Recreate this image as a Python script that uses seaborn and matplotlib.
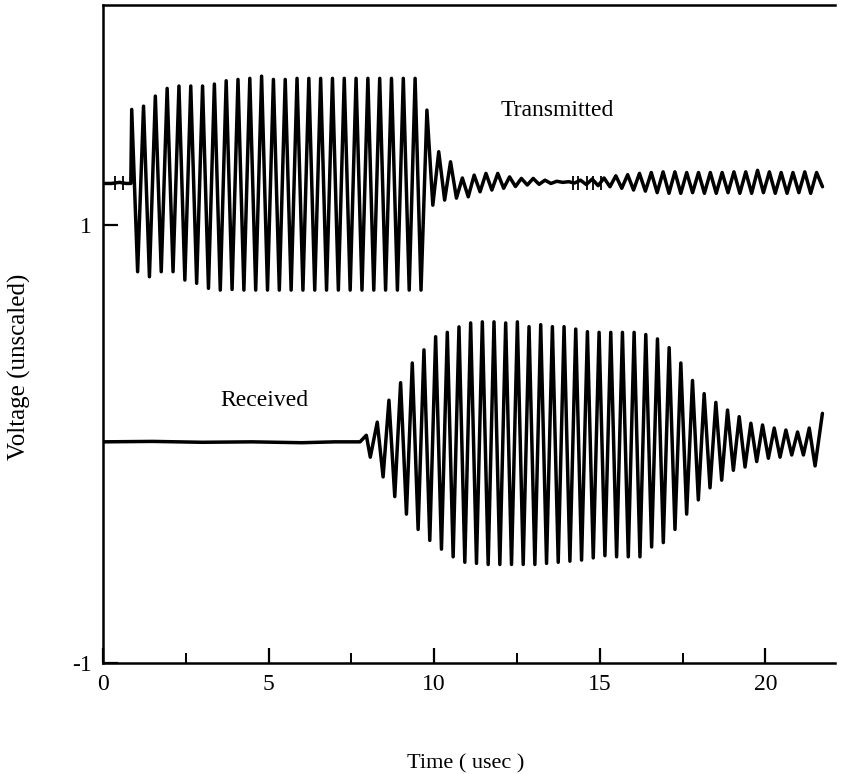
import numpy as np
import pandas as pd
import matplotlib.pyplot as plt
import seaborn as sns

# ---- data (time in usec, voltage unscaled) ----
# transmitted trace
tx_pre_t = [0.0, 0.25, 0.5, 0.7, 0.84]
tx_pre_v = [1.19, 1.19, 1.195, 1.19, 1.19]
tx_t0 = 0.867          # first peak of the burst
tx_period = 0.3565     # carrier period read from peak spacing
tx_peaks = [1.528, 1.543, 1.589, 1.624, 1.635, 1.635, 1.635, 1.644, 1.659, 1.665,
            1.67, 1.68, 1.665, 1.665, 1.67, 1.67, 1.67, 1.67, 1.67, 1.67,
            1.67, 1.67, 1.67, 1.67, 1.67, 1.525,
            1.335, 1.289, 1.215, 1.228, 1.236, 1.236, 1.22, 1.213, 1.213, 1.205,
            1.2, 1.198, 1.205, 1.21, 1.215, 1.225, 1.23, 1.236, 1.24, 1.243,
            1.243, 1.24, 1.24, 1.24, 1.24, 1.243, 1.243, 1.25, 1.243, 1.24,
            1.24, 1.243, 1.24]
tx_troughs = [0.787, 0.764, 0.787, 0.787, 0.749, 0.734, 0.711, 0.703, 0.706, 0.703,
              0.703, 0.703, 0.703, 0.703, 0.703, 0.703, 0.703, 0.703, 0.703, 0.703,
              0.703, 0.703, 0.703, 0.703, 0.703, 1.091,
              1.114, 1.123, 1.129, 1.152, 1.16, 1.168, 1.176, 1.183, 1.186, 1.19,
              1.195, 1.192, 1.185, 1.18, 1.175, 1.168, 1.16, 1.155, 1.148, 1.145,
              1.145, 1.148, 1.145, 1.145, 1.148, 1.145, 1.145, 1.148, 1.145, 1.145,
              1.148, 1.145, 1.175]
tx_mark_t = [0.35, 0.6, 14.2, 14.35, 14.6, 14.8, 15.05]
tx_mark_v = 1.19

# received trace
rx_pre_t = [0.0, 1.5, 3.0, 4.5, 6.0, 7.0, 7.76, 7.95, 8.07]
rx_pre_v = [0.01, 0.012, 0.008, 0.01, 0.006, 0.01, 0.01, 0.04, -0.06]
rx_t0 = 8.28
rx_period = 0.3525
rx_peaks = [0.10, 0.20, 0.28, 0.37, 0.43, 0.49, 0.51, 0.535, 0.553, 0.558,
            0.558, 0.553, 0.558, 0.536, 0.545, 0.536, 0.536, 0.525, 0.513, 0.51,
            0.51, 0.51, 0.51, 0.50, 0.48, 0.44, 0.37, 0.29, 0.23, 0.19,
            0.155, 0.125, 0.095, 0.087, 0.073, 0.064, 0.055, 0.073]
rx_troughs = [-0.15, -0.24, -0.32, -0.39, -0.44, -0.48, -0.515, -0.54, -0.545, -0.55,
              -0.55, -0.55, -0.55, -0.55, -0.545, -0.54, -0.535, -0.53, -0.52, -0.51,
              -0.515, -0.515, -0.515, -0.47, -0.45, -0.39, -0.32, -0.255, -0.2, -0.165,
              -0.12, -0.105, -0.08, -0.065, -0.06, -0.05, -0.05, -0.10]
rx_post_t = [21.72]
rx_post_v = [0.14]

x_ticks = [0, 5, 10, 15, 20]
y_ticks = [-1, 1]


def trace(pre_t, pre_v, t0, period, peaks, troughs, post_t=(), post_v=()):
    # peaks and troughs alternate, half a period apart
    t, v = list(pre_t), list(pre_v)
    for k, (p, q) in enumerate(zip(peaks, troughs)):
        t += [t0 + k * period, t0 + (k + 0.5) * period]
        v += [p, q]
    t += list(post_t)
    v += list(post_v)
    return pd.DataFrame({"time": t, "volt": v})


tx = trace(tx_pre_t, tx_pre_v, tx_t0, tx_period, tx_peaks, tx_troughs)
rx = trace(rx_pre_t, rx_pre_v, rx_t0, rx_period, rx_peaks, rx_troughs, rx_post_t, rx_post_v)

sns.set_style("ticks", {"axes.edgecolor": "black", "text.color": "black",
                        "axes.labelcolor": "black", "xtick.color": "black",
                        "ytick.color": "black"})
plt.rcParams['font.family'] = ['Liberation Serif', 'DejaVu Serif']

fig = plt.figure(figsize=(8.68, 7.74), dpi=100)
ax = fig.add_axes([103 / 868, 1 - 663 / 774, 732 / 868, 658 / 774])

sns.lineplot(data=tx, x="time", y="volt", sort=False, estimator=None,
             color="black", lw=2.5, ax=ax)
sns.lineplot(data=rx, x="time", y="volt", sort=False, estimator=None,
             color="black", lw=2.5, ax=ax)
ax.plot(tx_mark_t, [tx_mark_v] * len(tx_mark_t), "|", color="black", ms=10, mew=1.3)

ax.text(13.7, 1.525, "Transmitted", fontsize=17, ha="center", va="center")
ax.text(4.87, 0.20, "Received", fontsize=17, ha="center", va="center")

ax.set_xlim(0, 22.1)
ax.set_ylim(-1, 2.005)
ax.set_xticks(x_ticks)
ax.set_xticks([2.5, 7.5, 12.5, 17.5], minor=True)
ax.set_yticks(y_ticks)
ax.set_yticklabels(["-1", "1"])
ax.tick_params(axis="both", which="major", direction="in", length=11, width=1.6,
               labelsize=17, pad=8)
ax.tick_params(axis="x", which="minor", direction="in", length=7, width=1.4)

for side in ["left", "bottom", "top"]:
    ax.spines[side].set_linewidth(1.8)
ax.spines["right"].set_visible(False)

ax.set_xlabel("Time ( usec )", fontsize=16)
ax.set_ylabel("Voltage (unscaled)", fontsize=18)
ax.xaxis.set_label_coords(0.495, -0.138)
ax.yaxis.set_label_coords(-0.098, 0.45)

fig.savefig("out.png", dpi=100)
